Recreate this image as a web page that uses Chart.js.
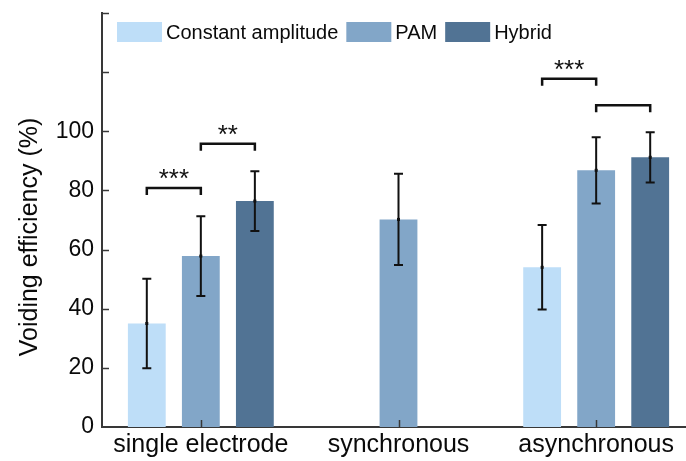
<!DOCTYPE html>
<html><head><meta charset="utf-8">
<script src="https://cdn.jsdelivr.net/npm/chart.js@4/dist/chart.umd.min.js"></script>
<style>html,body{margin:0;padding:0;overflow:hidden;background:#fff;width:686px;height:461px}
canvas{display:block}</style></head>
<body><canvas id="c" width="695" height="461"></canvas>
<script>
// ---- data ----
const categories = ['single electrode', 'synchronous', 'asynchronous'];
const seriesNames = ['Constant amplitude', 'PAM', 'Hybrid'];
const constantVals = [35.0, null, 54.0];
const constantErr  = [15.1, null, 14.3];
const pamVals      = [57.8, 70.2, 86.8];
const pamErr       = [13.5, 15.4, 11.2];
const hybridVals   = [76.4, null, 91.2];
const hybridErr    = [10.1, null, 8.5];
const yTicks       = [0, 20, 40, 60, 80, 100, 120, 140];
const yTickLabels  = ['0', '20', '40', '60', '80', '100', '', ''];
const yTitle       = 'Voiding efficiency (%)';
// significance brackets: category, from-series, to-series, level, label
const sigGroup = [0, 0, 2, 2];
const sigFrom  = [0, 1, 0, 1];
const sigTo    = [1, 2, 1, 2];
const sigLevel = [80.8, 95.8, 117.8, 108.8];
const sigLabel = ['***', '**', '***', ''];

// ---- styles ----
const colors = ['#bedef8', '#82a6c8', '#517394'];
const FONT = '"Liberation Sans", Arial, Helvetica, sans-serif';
const AXIS = '#383838';
const errs = [constantErr, pamErr, hybridErr];

const decor = {
  id: 'decor',
  afterDatasetsDraw(chart) {
    const ctx = chart.ctx, y = chart.scales.y, x = chart.scales.x, ca = chart.chartArea;
    ctx.save();
    // inward ticks
    ctx.strokeStyle = AXIS; ctx.lineWidth = 1.5;
    yTicks.forEach(v => {
      if (v === 0) return;
      const py = Math.round(y.getPixelForValue(v)) + 0.5;
      ctx.beginPath(); ctx.moveTo(ca.left, py); ctx.lineTo(ca.left + 7, py); ctx.stroke();
    });
    categories.forEach((c, j) => {
      const px = Math.round(x.getPixelForValue(j)) + 0.5;
      ctx.beginPath(); ctx.moveTo(px, ca.bottom); ctx.lineTo(px, ca.bottom - 7); ctx.stroke();
    });
    // error bars
    ctx.strokeStyle = '#111'; ctx.fillStyle = '#111'; ctx.lineWidth = 2;
    chart.data.datasets.forEach((ds, i) => {
      const meta = chart.getDatasetMeta(i);
      ds.data.forEach((v, j) => {
        if (v === null) return;
        const e = errs[i][j];
        const bx = meta.data[j].x;
        const yt = y.getPixelForValue(v + e), yb = y.getPixelForValue(v - e), ym = y.getPixelForValue(v);
        ctx.beginPath();
        ctx.moveTo(bx, yt); ctx.lineTo(bx, yb);
        ctx.moveTo(bx - 4.5, yt); ctx.lineTo(bx + 4.5, yt);
        ctx.moveTo(bx - 4.5, yb); ctx.lineTo(bx + 4.5, yb);
        ctx.stroke();
        ctx.fillRect(bx - 1.5, ym - 1.5, 3, 3);
      });
    });
    // significance brackets
    ctx.lineWidth = 2.5; ctx.strokeStyle = '#111';
    ctx.font = '26px ' + FONT; ctx.textAlign = 'center'; ctx.textBaseline = 'alphabetic';
    sigGroup.forEach((g, k) => {
      const x1 = chart.getDatasetMeta(sigFrom[k]).data[g].x;
      const x2 = chart.getDatasetMeta(sigTo[k]).data[g].x;
      const py = y.getPixelForValue(sigLevel[k]);
      ctx.beginPath();
      ctx.moveTo(x1, py + 7); ctx.lineTo(x1, py); ctx.lineTo(x2, py); ctx.lineTo(x2, py + 7);
      ctx.stroke();
      if (sigLabel[k]) ctx.fillText(sigLabel[k], (x1 + x2) / 2, py - 1);
    });
    ctx.restore();
  },
  afterDraw(chart) {
    const ctx = chart.ctx, ca = chart.chartArea;
    ctx.save();
    // legend
    ctx.font = '20px ' + FONT; ctx.textAlign = 'left'; ctx.textBaseline = 'middle';
    let lx = ca.left + 15; const ly = ca.top + 9, bw = 45, bh = 20;
    chart.data.datasets.forEach(ds => {
      ctx.fillStyle = ds.backgroundColor; ctx.fillRect(lx, ly, bw, bh);
      ctx.fillStyle = '#0a0a0a';
      ctx.fillText(ds.label, lx + bw + 4, ly + bh / 2 + 1);
      lx += bw + 4 + ctx.measureText(ds.label).width + 8;
    });
    // y title
    ctx.translate(30, (ca.top + ca.bottom) / 2 + 17);
    ctx.rotate(-Math.PI / 2);
    ctx.font = '25px ' + FONT; ctx.textAlign = 'center'; ctx.textBaseline = 'middle';
    ctx.fillStyle = '#0a0a0a';
    ctx.fillText(yTitle, 0, 0);
    ctx.restore();
  }
};

new Chart(document.getElementById('c'), {
  type: 'bar',
  data: {
    labels: categories,
    datasets: [
      { label: seriesNames[0], data: constantVals, backgroundColor: colors[0] },
      { label: seriesNames[1], data: pamVals, backgroundColor: colors[1] },
      { label: seriesNames[2], data: hybridVals, backgroundColor: colors[2] }
    ]
  },
  options: {
    responsive: false,
    animation: false,
    devicePixelRatio: 1,
    layout: { padding: { top: 13, left: 0, right: 0, bottom: 0 } },
    datasets: { bar: { barPercentage: 0.70, categoryPercentage: 0.82, borderWidth: 0 } },
    plugins: { legend: { display: false }, tooltip: { enabled: false } },
    scales: {
      x: {
        grid: { display: false, drawTicks: false },
        border: { display: true, color: AXIS, width: 2 },
        ticks: { color: '#0a0a0a', font: { family: FONT, size: 25 }, padding: 3, maxRotation: 0, autoSkip: false },
        afterFit(s) { s.height = 34; s.paddingLeft = 0; s.paddingRight = 0; }
      },
      y: {
        min: 0, max: 140,
        grid: { display: false, drawTicks: false },
        border: { display: true, color: AXIS, width: 2 },
        afterBuildTicks(s) { s.ticks = yTicks.map(v => ({ value: v })); },
        ticks: {
          color: '#0a0a0a', font: { family: FONT, size: 23 }, padding: 8,
          callback: (v) => yTickLabels[yTicks.indexOf(v)]
        },
        afterFit(s) { s.width = 102; s.paddingTop = 0; s.paddingBottom = 0; }
      }
    }
  },
  plugins: [decor]
});
</script>
</body></html>
